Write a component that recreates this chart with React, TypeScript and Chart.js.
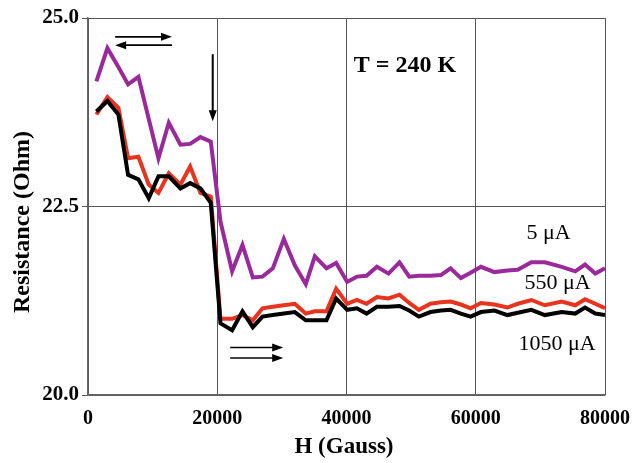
import React, { useEffect, useRef } from "react";
import { Chart, registerables } from "chart.js";

Chart.register(...registerables);

const H = [1300, 3000, 4700, 6200, 7800, 9400, 10900, 12500, 14300, 15800, 17400, 19000, 20500, 22300, 23900, 25500, 27000, 28600, 30300, 32000, 33700, 35100, 36900, 38400, 40100, 41600, 43100, 44700, 46500, 48200, 49700, 51200, 53000, 54600, 56100, 57700, 59200, 60800, 62900, 64900, 66500, 68600, 70700, 73300, 75400, 76900, 78500, 80000];

const R5 = [24.16, 24.6, 24.35, 24.12, 24.22, 23.66, 23.14, 23.61, 23.32, 23.33, 23.42, 23.36, 22.3, 21.64, 21.99, 21.56, 21.57, 21.68, 22.07, 21.72, 21.47, 21.84, 21.68, 21.75, 21.5, 21.57, 21.58, 21.7, 21.61, 21.76, 21.57, 21.58, 21.58, 21.59, 21.68, 21.55, 21.62, 21.7, 21.63, 21.65, 21.66, 21.76, 21.76, 21.7, 21.64, 21.73, 21.61, 21.68];

const R550 = [23.72, 23.95, 23.81, 23.14, 23.16, 22.79, 22.68, 22.94, 22.79, 23.03, 22.68, 22.63, 21.01, 21.01, 21.06, 20.99, 21.15, 21.17, 21.19, 21.21, 21.08, 21.11, 21.11, 21.41, 21.21, 21.26, 21.21, 21.3, 21.28, 21.33, 21.22, 21.13, 21.21, 21.23, 21.24, 21.2, 21.15, 21.22, 21.2, 21.16, 21.21, 21.26, 21.19, 21.24, 21.19, 21.27, 21.21, 21.15];

const R1050 = [23.76, 23.9, 23.72, 22.92, 22.86, 22.61, 22.9, 22.9, 22.74, 22.81, 22.74, 22.55, 20.95, 20.86, 21.11, 20.9, 21.04, 21.06, 21.08, 21.1, 20.99, 20.99, 20.99, 21.28, 21.13, 21.15, 21.08, 21.17, 21.17, 21.18, 21.12, 21.04, 21.1, 21.12, 21.13, 21.08, 21.04, 21.1, 21.12, 21.06, 21.09, 21.13, 21.06, 21.1, 21.08, 21.16, 21.08, 21.06];

const SERIES_LABELS = ["5 μA", "550 μA", "1050 μA"];
const SERIES_COLORS = ["#9a2a9c", "#e8331f", "#000000"];
const X_TICKS = [0, 20000, 40000, 60000, 80000];
const Y_TICKS = [20.0, 22.5, 25.0];

// annotation positions in data units
const LABEL_POS = [
  [71260, 22.14],
  [72650, 21.48],
  [72570, 20.67],
];
const TEMP_TEXT = "T = 240 K";
const TEMP_POS = [49050, 24.37];

const FONT = "'Liberation Serif', 'Times New Roman', serif";

function arrow(ctx: CanvasRenderingContext2D, x1: number, y1: number, x2: number, y2: number) {
  const ang = Math.atan2(y2 - y1, x2 - x1);
  const hl = 11;
  const hw = 4;
  ctx.beginPath();
  ctx.moveTo(x1, y1);
  ctx.lineTo(x2 - Math.cos(ang) * hl * 0.6, y2 - Math.sin(ang) * hl * 0.6);
  ctx.stroke();
  ctx.beginPath();
  ctx.moveTo(x2, y2);
  ctx.lineTo(x2 - Math.cos(ang) * hl - Math.sin(ang) * hw, y2 - Math.sin(ang) * hl + Math.cos(ang) * hw);
  ctx.lineTo(x2 - Math.cos(ang) * hl + Math.sin(ang) * hw, y2 - Math.sin(ang) * hl - Math.cos(ang) * hw);
  ctx.closePath();
  ctx.fill();
}

const annotPlugin = {
  id: "annot",
  afterDraw(chart: any) {
    const ctx = chart.ctx as CanvasRenderingContext2D;
    const xs = chart.scales.x;
    const ys = chart.scales.y;
    const px = (v: number) => xs.getPixelForValue(v);
    const py = (v: number) => ys.getPixelForValue(v);
    ctx.save();
    ctx.fillStyle = "#000";
    ctx.strokeStyle = "#000";
    ctx.lineWidth = 1.6;
    // arrows
    arrow(ctx, px(4200), py(24.75), px(13000), py(24.75));
    arrow(ctx, px(13000), py(24.64), px(4200), py(24.64));
    ctx.lineWidth = 2;
    arrow(ctx, px(19300), py(24.52), px(19300), py(23.63));
    ctx.lineWidth = 1.6;
    arrow(ctx, px(22000), py(20.63), px(30200), py(20.63));
    arrow(ctx, px(22000), py(20.49), px(30200), py(20.49));

    // texts
    ctx.textAlign = "center";
    ctx.textBaseline = "middle";
    ctx.font = `bold 24px ${FONT}`;
    ctx.fillText(TEMP_TEXT, px(TEMP_POS[0]), py(TEMP_POS[1]));
    ctx.font = `22px ${FONT}`;
    SERIES_LABELS.forEach((l, i) => {
      ctx.fillText(l, px(LABEL_POS[i][0]), py(LABEL_POS[i][1]));
    });

    // axis titles
    ctx.font = `bold 23px ${FONT}`;
    ctx.fillText("H (Gauss)", 344, 447);
    ctx.save();
    ctx.translate(23, 222);
    ctx.rotate(-Math.PI / 2);
    ctx.font = `bold 24px ${FONT}`;
    ctx.fillText("Resistance (Ohm)", 0, 0);
    ctx.restore();
    ctx.restore();
  },
};

export default function App() {
  const ref = useRef<HTMLCanvasElement>(null);
  useEffect(() => {
    document.body.style.margin = "0";
    const mk = (vals: number[], i: number) => ({
      label: SERIES_LABELS[i],
      data: H.map((h, k) => ({ x: h, y: vals[k] })),
      borderColor: SERIES_COLORS[i],
      backgroundColor: SERIES_COLORS[i],
      borderWidth: 4,
      pointRadius: 0,
      tension: 0,
      borderJoinStyle: "miter" as const,
    });
    const chart = new Chart(ref.current!, {
      type: "line",
      data: {
        datasets: [mk(R5, 0), mk(R550, 1), mk(R1050, 2)].reverse(),
      },
      options: {
        animation: false,
        responsive: false,
        layout: { padding: { top: 18, right: 28, left: 0, bottom: 0 } },
        plugins: { legend: { display: false }, tooltip: { enabled: false } },
        scales: {
          x: {
            type: "linear",
            min: 0,
            max: 80000,
            afterBuildTicks: (s: any) => {
              s.ticks = X_TICKS.map((v) => ({ value: v }));
            },
            afterFit: (s: any) => {
              s.height = 68;
              s.paddingRight = 0;
              s.paddingLeft = 0;
            },
            grid: { color: "#555", lineWidth: 1, drawTicks: false },
            border: { color: "#666", width: 1.5 },
            ticks: {
              color: "#000",
              padding: 12,
              maxRotation: 0,
              font: { family: FONT, size: 20, weight: "bold" },
              callback: (v: any) => String(v),
            },
          },
          y: {
            type: "linear",
            min: 20,
            max: 25,
            afterBuildTicks: (s: any) => {
              s.ticks = Y_TICKS.map((v) => ({ value: v }));
            },
            afterFit: (s: any) => {
              s.width = 88;
              s.paddingTop = 0;
              s.paddingBottom = 0;
            },
            grid: { color: "#555", lineWidth: 1, drawTicks: true, tickLength: 6 },
            border: { color: "#666", width: 1.5 },
            ticks: {
              color: "#000",
              padding: 3,
              font: { family: FONT, size: 21, weight: "bold" },
              callback: (v: any) => Number(v).toFixed(1),
            },
          },
        },
      },
      plugins: [annotPlugin],
    });
    return () => chart.destroy();
  }, []);
  return (
    <div style={{ position: "absolute", left: 0, top: 0, width: 633, height: 463, background: "#fff" }}>
      <canvas ref={ref} width={633} height={463} style={{ width: 633, height: 463 }} />
    </div>
  );
}
